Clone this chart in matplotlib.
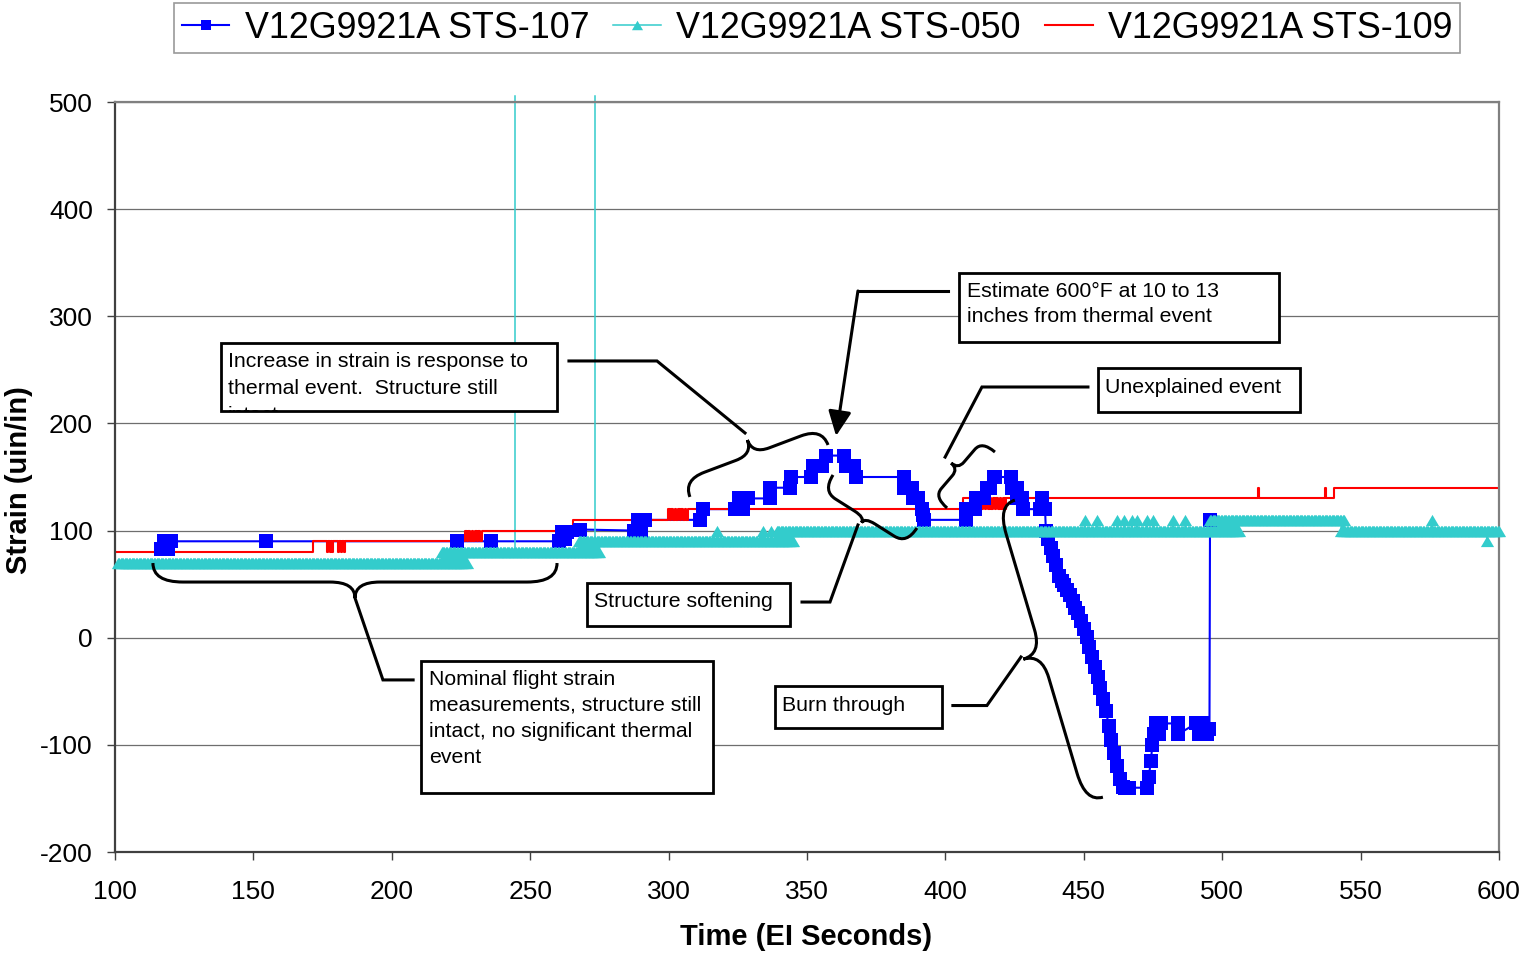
import numpy as np
import matplotlib
matplotlib.use("Agg")
import matplotlib.pyplot as plt
from matplotlib.patches import Rectangle, PathPatch
from matplotlib.path import Path
from matplotlib.lines import Line2D

plt.rcParams['font.family'] = ['Liberation Sans', 'DejaVu Sans']
plt.rcParams['axes.unicode_minus'] = False

# ---------------- data ----------------
# V12G9921A STS-107 (blue squares)
t107 = [116.6, 117.8, 119.0, 120.1, 154.4, 223.5, 235.8,
        260.5, 261.5, 262.5, 263.2, 268.0,
        287.5, 288.8, 290.2, 291.5, 311.5, 312.5,
        324.0, 325.5, 327.0, 328.7, 336.5, 336.8, 344.0, 344.2,
        351.5, 352.0, 355.4, 356.8, 363.4, 364.1, 367.0, 367.7,
        385.0, 385.2, 388.0, 388.2, 390.0, 391.5, 392.0, 392.3,
        407.4, 407.6, 410.7, 410.9, 414.0, 415.0, 416.0, 417.5, 418.0,
        423.7, 423.9, 425.7, 425.9, 427.7, 428.2, 434.0, 435.0, 436.0, 436.3,
        437, 438, 439, 440, 441, 442, 443, 444, 445, 446, 447, 448, 449, 450,
        451, 452, 453, 454, 455, 456, 457, 458, 459, 460, 461, 462, 463, 464,
        465, 466.5, 473.0, 473.5, 474.2, 474.8, 475.3, 476.0, 477.2, 477.9,
        484.0, 484.2, 490.5, 491.5, 493.0, 494.5, 495.4, 495.6]
v107 = [83, 90, 83, 90, 90, 90, 90,
        90, 99, 92, 99, 101,
        100, 110, 100, 110, 110, 120,
        120, 130, 120, 130, 130, 140, 140, 150,
        150, 160, 160, 170, 170, 160, 160, 150,
        150, 140, 140, 130, 130, 120, 115, 110,
        110, 120, 120, 130, 130, 140, 140, 150, 150,
        150, 140, 140, 130, 130, 120, 120, 130, 120, 100,
        92, 84, 76, 68, 58, 53, 49, 45, 40, 34, 28, 23, 16, 8,
        1, -9, -18, -27, -37, -47, -57, -68, -82, -95, -108, -120, -132, -139,
        -140, -140, -140, -130, -115, -100, -90, -80, -90, -80,
        -80, -90, -80, -90, -80, -90, -85, 110]

# V12G9921A STS-050 (cyan triangles): dense record held at constant levels
cyan_runs = [(101, 227, 70), (218, 275, 80), (267.5, 345, 90),
             (339, 506, 100), (495.5, 544, 110), (543, 600, 100)]
cyan_blip_t = [317.5, 334, 337, 450.4, 454.7, 462, 464.6, 467.4, 469.2,
               472.8, 475, 482.2, 486.6, 575.8, 595.7]
cyan_blip_v = [100, 100, 100, 110, 110, 110, 110, 110, 110,
               110, 110, 110, 110, 110, 90]
cyan_event_t = [244.5, 273.5]

# V12G9921A STS-109 (red line), value held until next time
red_t = [100.0, 171.5,
         176.6, 177.1, 177.6, 178.1, 178.4, 178.8,
         180.6, 181.1, 181.6, 182.1, 182.6, 183.0,
         226.4, 227.0, 227.6, 228.2, 228.8, 229.4, 230.0, 230.6, 231.2, 231.8, 232.6,
         265.5,
         299.8, 300.4, 301.0, 301.6, 302.2, 302.8, 303.4, 304.0, 304.6, 305.2,
         305.8, 306.4, 307.0,
         406.2, 409.0,
         413.6, 414.2, 414.8, 415.4, 416.0, 416.6, 417.2, 417.8, 418.4, 419.0,
         419.6, 420.2, 420.8, 421.4, 422.0,
         512.9, 513.3, 537.0, 537.4, 540.5, 600.0]
red_v = [80, 90,
         80, 90, 80, 90, 80, 90,
         80, 90, 80, 90, 80, 90,
         100, 90, 100, 90, 100, 90, 100, 90, 100, 90, 100,
         110,
         120, 110, 120, 110, 120, 110, 120, 110, 120, 110,
         120, 110, 120,
         130, 120,
         130, 120, 130, 120, 130, 120, 130, 120, 130, 120,
         130, 120, 130, 120, 130,
         140, 130, 140, 130, 140, 140]

labels = ['V12G9921A STS-107', 'V12G9921A STS-050', 'V12G9921A STS-109']

BLUE, CYAN, RED = '#0000FF', '#33CCCC', '#FF0000'

# build cyan sample series from its runs + isolated samples
t050, v050 = [], []
for a, b, lev in cyan_runs:
    ts = np.arange(a, b + 0.01, 0.5)
    t050 += list(ts)
    v050 += [lev] * len(ts)
t050 += cyan_blip_t
v050 += cyan_blip_v
order = np.argsort(t050, kind='mergesort')
t050 = np.array(t050)[order]
v050 = np.array(v050)[order]

W, H = 1525, 959
fig = plt.figure(figsize=(W / 100, H / 100), dpi=100)
ax = fig.add_axes([115 / W, 1 - 852 / H, 1384 / W, 750 / H])
ax.set_xlim(100, 600)
ax.set_ylim(-200, 500)
ax.set_xticks(range(100, 601, 50))
ax.set_yticks(range(-200, 501, 100))
ax.yaxis.grid(True, color='#6e6e6e', lw=0.9)
ax.set_axisbelow(True)
for s in ax.spines.values():
    s.set_color('#808080')
    s.set_linewidth(1.6)
ax.spines['left'].set_color('#404040')
ax.spines['bottom'].set_color('#404040')
ax.tick_params(axis='both', direction='out', length=6, width=1,
               colors='#404040', labelcolor='black', labelsize=19)
ax.tick_params(axis='y', pad=10)
ax.tick_params(axis='x', pad=14)

tri = [(-1, -0.85), (1, -0.85), (0, 0.85)]

# lines first (Excel style), markers on top
ax.plot(t107, v107, color=BLUE, lw=1.5, zorder=2.0)
ax.plot(t050, v050, color=CYAN, lw=1.1, zorder=2.1)
for t in cyan_event_t:
    ax.plot([t, t], [85, 506], color=CYAN, lw=1.1, zorder=2.1, clip_on=False)
ax.plot(red_t, red_v, color=RED, lw=1.5, drawstyle='steps-post', zorder=2.2)
ax.plot(t107, v107, ls='none', marker='s', ms=10, mfc=BLUE, mec=BLUE,
        mew=0, zorder=3.0, clip_on=False)
ax.plot(t050, v050, ls='none', marker=tri, ms=9.5, mfc=CYAN, mec=CYAN,
        mew=0, zorder=3.1, clip_on=False)

# legend
handles = [Line2D([], [], color=BLUE, lw=1.5, marker='s', ms=7, mew=0),
           Line2D([], [], color=CYAN, lw=1.1, marker=tri, ms=8, mew=0),
           Line2D([], [], color=RED, lw=1.5)]
leg = fig.legend(handles, labels, loc='center', bbox_to_anchor=(817 / W, 1 - 28 / H),
                 ncol=3, fontsize=25.8, frameon=True, fancybox=False,
                 edgecolor='#808080', handlelength=1.33, handletextpad=0.42,
                 columnspacing=0.68, borderpad=0.22, borderaxespad=0)
leg.get_frame().set_linewidth(1.2)

fig.text(19 / W, 1 - 480 / H, 'Strain (uin/in)', rotation=90, ha='center',
         va='center', fontsize=21, fontweight='bold')
fig.text(806 / W, 1 - 937 / H, 'Time (EI Seconds)', ha='center', va='center',
         fontsize=21, fontweight='bold')


# ---------------- annotations ----------------
def brace(p0, p1, side, arm, tip):
    a = ax.transData.transform(p0)
    b = ax.transData.transform(p1)
    d = b - a
    L = np.hypot(*d)
    u = d / L
    n = side * np.array([-u[1], u[0]])
    r = min(30, 0.15 * L)
    r2 = min(25, 0.12 * L)
    m = a + u * L / 2
    verts = [a, a + n * arm, a + n * arm + u * r,
             m - u * r2 + n * arm,
             m + n * arm, m + n * tip,
             m + n * arm, m + u * r2 + n * arm,
             b - u * r + n * arm,
             b + n * arm, b]
    codes = [Path.MOVETO, Path.CURVE3, Path.CURVE3, Path.LINETO,
             Path.CURVE3, Path.CURVE3, Path.CURVE3, Path.CURVE3,
             Path.LINETO, Path.CURVE3, Path.CURVE3]
    verts = ax.transData.inverted().transform(verts)
    ax.add_patch(PathPatch(Path(verts, codes), fill=False, lw=2.2,
                           ec='black', zorder=5, clip_on=False))


def leader(xs, ys):
    ax.plot(xs, ys, color='black', lw=2.2, zorder=5, clip_on=False,
            solid_joinstyle='miter')


def box(x0, x1, y0, y1):
    rect = Rectangle((x0, y0), x1 - x0, y1 - y0, fc='white', ec='black',
                     lw=2.0, zorder=6, clip_on=False)
    ax.add_patch(rect)
    return rect


txt = dict(fontsize=15.3, zorder=7, linespacing=1.42)

# Nominal flight strain
brace((113.7, 69.7), (259.7, 69.7), -1, 19, 35)
leader([186.7, 196.8, 207.7], [37.1, -39.4, -39.4])
box(210.5, 316.0, -144.9, -21.7)
ax.text(213.4, -30.0, 'Nominal flight strain\nmeasurements, structure still\n'
        'intact, no significant thermal\nevent', va='top', ha='left',
        **dict(txt, linespacing=1.46))

# Increase in strain (last line cut off by its box)
brace((307.7, 131.4), (357.6, 179.9), 1, 18, 33)
leader([264.0, 295.8, 327.6], [258.3, 258.3, 191.1])
r_inc = box(138.3, 259.7, 211.6, 275.1)
t_inc = ax.text(140.8, 267.0, 'Increase in strain is response to\n'
                'thermal event.  Structure still\nintact', va='top', ha='left',
                **dict(txt, linespacing=1.56))
t_inc.set_clip_path(r_inc)
t_inc.set_clip_on(True)

# Estimate 600F
leader([400.9, 368.4], [323.6, 323.6])
ax.annotate('', xy=(360.5, 188.3), xytext=(368.4, 323.6),
            arrowprops=dict(arrowstyle='-|>,head_length=0.75,head_width=0.35',
                            mutation_scale=20, lw=2.2, color='black',
                            shrinkA=0, shrinkB=0), zorder=5)
box(404.9, 520.5, 275.9, 340.3)
ax.text(407.8, 332.0, 'Estimate 600°F at 10 to 13\ninches from thermal event',
        va='top', ha='left', **txt)

# Unexplained event
brace((417.9, 173.3), (400.6, 121.1), -1, 17, 26)
leader([451.5, 413.2, 399.9], [234.0, 234.0, 168.6])
box(455.1, 528.1, 210.6, 251.6)
ax.text(457.7, 233.5, 'Unexplained event', va='center', ha='left', **txt)

# Structure softening
brace((359.4, 151.9), (389.7, 102.4), -1, 19, 25)
leader([348.2, 358.3, 368.4], [33.3, 33.3, 105.2])
box(270.5, 343.9, 11.0, 51.1)
ax.text(273.0, 33.8, 'Structure softening', va='center', ha='left', **txt)

# Burn through
brace((425.1, 128.4), (456.9, -148.8), -1, 18, 37)
leader([402.7, 415.0, 427.3], [-63.3, -63.3, -18.0])
box(338.4, 398.8, -84.3, -45.1)
ax.text(341.0, -62.9, 'Burn through', va='center', ha='left', **txt)

fig.savefig('out.png', dpi=100, facecolor='white')
